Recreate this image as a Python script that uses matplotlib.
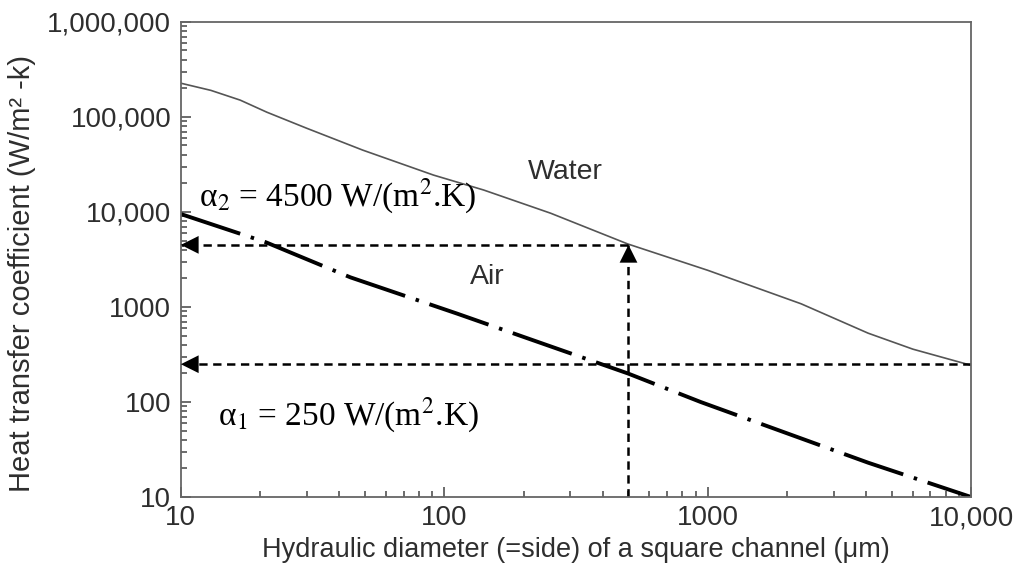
import matplotlib
matplotlib.use("Agg")
import matplotlib.pyplot as plt
from matplotlib.ticker import FixedLocator, LogLocator, NullFormatter

plt.rcParams['font.family'] = ['Liberation Sans', 'DejaVu Sans']
plt.rcParams['lines.scale_dashes'] = False

# water curve
water_d = [10, 13, 16.8, 21.2, 30, 49, 91, 141, 253, 497, 1000, 2260, 4060, 6000, 10000]
water_h = [226000, 190000, 150000, 112000, 76000, 44700, 24400, 17000, 9700, 4600, 2430, 1080, 530, 360, 243]

# air curve
air_d = [10, 21, 44, 112, 218, 497, 940, 4060, 10000]
air_h = [9500, 4800, 2050, 850, 445, 200, 100, 23, 10]

# marked operating points
d_mark = 500
alpha1 = 250
alpha2 = 4500

x_ticks = [10, 100, 1000, 10000]
x_labels = ['10', '100', '1000', '10,000']
y_ticks = [10, 100, 1000, 10000, 100000, 1000000]
y_labels = ['10', '100', '1000', '10,000', '100,000', '1,000,000']

text_c = '#2e2e2e'
spine_c = '#666666'

fig = plt.figure(figsize=(10.16, 5.74), dpi=100)
ax = fig.add_axes([0.178, 0.134, 0.778, 0.828])
ax.set_xscale('log')
ax.set_yscale('log')
ax.set_xlim(10, 10000)
ax.set_ylim(10, 1000000)

ax.plot(water_d, water_h, color='#555555', lw=1.2)
ax.plot(air_d, air_h, color='black', lw=2.8, solid_capstyle='butt',
        dashes=(45, 8, 2.5, 8))

# dashed guide lines
dash = dict(color='black', lw=1.8, dashes=(6, 4))
ax.plot([10000, 10], [alpha1, alpha1], **dash)
ax.plot([d_mark, 10], [alpha2, alpha2], **dash)
ax.plot([d_mark, d_mark], [10, alpha2], **dash)

head = dict(arrowstyle='-|>,head_length=0.8,head_width=0.4', color='black',
            lw=0, shrinkA=0, shrinkB=0, mutation_scale=16)
ax.annotate('', xy=(10, alpha1), xytext=(12, alpha1), arrowprops=head)
ax.annotate('', xy=(10, alpha2), xytext=(12, alpha2), arrowprops=head)
ax.annotate('', xy=(d_mark, alpha2), xytext=(d_mark, alpha2 * 0.75), arrowprops=head)

ax.text(288, 26200, 'Water', fontsize=20.5, color=text_c, ha='center', va='center')
ax.text(146, 2060, 'Air', fontsize=20.5, color=text_c, ha='center', va='center')

ax.text(11.7, 14500, '\u03b1$_2$ = 4500 W/(m$^2$.K)', fontsize=24,
        family='Liberation Serif', math_fontfamily='stix', va='center', ha='left')
ax.text(13.8, 72, '\u03b1$_1$ = 250 W/(m$^2$.K)', fontsize=24,
        family='Liberation Serif', math_fontfamily='stix', va='center', ha='left')

ax.xaxis.set_major_locator(FixedLocator(x_ticks))
ax.set_xticklabels(x_labels)
ax.yaxis.set_major_locator(FixedLocator(y_ticks))
ax.set_yticklabels(y_labels)
ax.xaxis.set_minor_locator(LogLocator(base=10, subs=range(2, 10)))
ax.yaxis.set_minor_locator(LogLocator(base=10, subs=range(2, 10)))
ax.xaxis.set_minor_formatter(NullFormatter())
ax.yaxis.set_minor_formatter(NullFormatter())

ax.tick_params(which='both', direction='in', color='#444444', width=1.1,
               labelsize=20, labelcolor=text_c)
ax.tick_params(which='major', length=7)
ax.tick_params(which='minor', length=4.5)
ax.tick_params(axis='x', pad=6)
ax.tick_params(axis='y', pad=7)

for s in ax.spines.values():
    s.set_color(spine_c)
    s.set_linewidth(1.3)

ax.set_xlabel('Hydraulic diameter (=side) of a square channel (\u03bcm)',
              fontsize=19.5, color=text_c, labelpad=4)
ax.set_ylabel('Heat transfer coefficient (W/m\u00b2 -k)', fontsize=21,
              color=text_c)
ax.yaxis.set_label_coords(-0.183, 0.47)

fig.savefig('out.png', dpi=100)
